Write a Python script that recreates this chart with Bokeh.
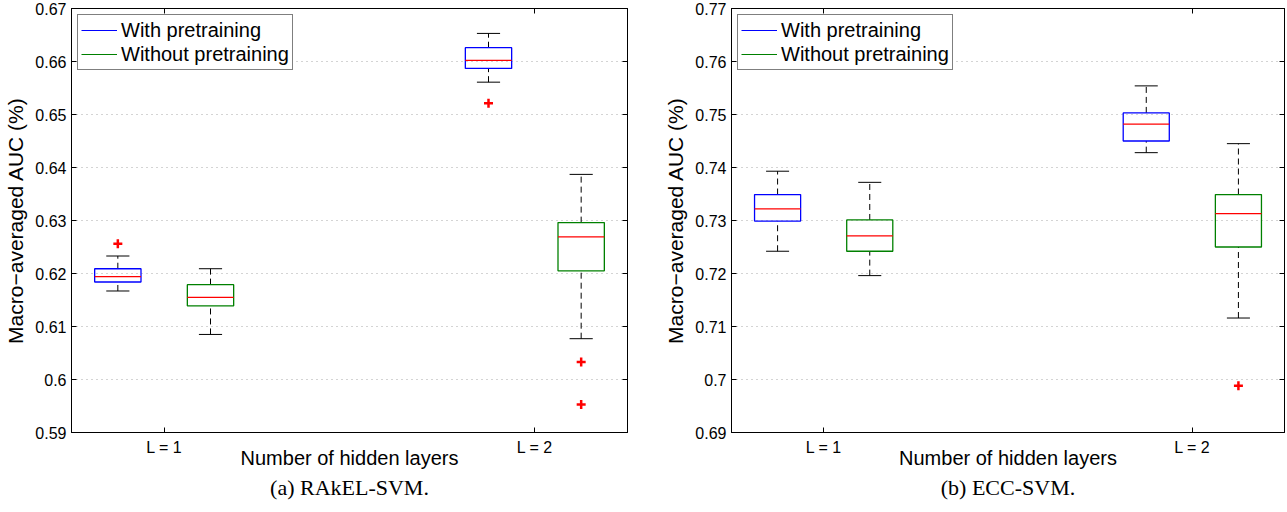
import numpy as np
from bokeh.plotting import figure
from bokeh.layouts import row
from bokeh.models import (FixedTicker, LinearAxis, Range1d, CustomJSTickFormatter,
                          Legend, LegendItem, ColumnDataSource)
from bokeh.embed import file_html
from bokeh.resources import INLINE

series = ["With pretraining", "Without pretraining"]
group_labels = ["L = 1", "L = 2"]
positions = [1, 2, 5, 6]          # box positions: with/without for L=1, with/without for L=2
box_series = [0, 1, 0, 1]
box_group = [0, 0, 1, 1]

# (a) RAkEL-SVM
a_lower = [0.6167, 0.6085, 0.6561, 0.6077]
a_q1 = [0.6184, 0.6139, 0.6587, 0.6205]
a_med = [0.6194, 0.6155, 0.6602, 0.6269]
a_q3 = [0.6209, 0.6179, 0.6626, 0.6296]
a_upper = [0.6233, 0.6209, 0.6653, 0.6387]
a_out_box = [0, 2, 3, 3]
a_out_val = [0.6256, 0.6521, 0.6033, 0.5953]
a_yticks = [0.59, 0.60, 0.61, 0.62, 0.63, 0.64, 0.65, 0.66, 0.67]

# (b) ECC-SVM
b_lower = [0.7242, 0.7196, 0.7428, 0.7116]
b_q1 = [0.7299, 0.7242, 0.7450, 0.7250]
b_med = [0.7322, 0.7271, 0.7482, 0.7313]
b_q3 = [0.7349, 0.7301, 0.7503, 0.7349]
b_upper = [0.7393, 0.7372, 0.7554, 0.7445]
b_out_box = [3]
b_out_val = [0.6988]
b_yticks = [0.69, 0.70, 0.71, 0.72, 0.73, 0.74, 0.75, 0.76, 0.77]

colors = ["#0000ff", "#008000"]
SANS = "Liberation Sans"


def panel(lower, q1, med, q3, upper, out_box, out_val, yticks, caption,
          border_left, border_right, frame_w):
    pos = np.array(positions, dtype=float)
    bw = 0.5
    cw = 0.25
    p = figure(frame_width=frame_w, frame_height=424,
               x_range=Range1d(0.5, 6.5), y_range=Range1d(yticks[0], yticks[-1]),
               output_backend="svg", toolbar_location=None,
               min_border_left=border_left, min_border_right=border_right,
               min_border_top=8, min_border_bottom=0,
               title_location="below")
    p.outline_line_color = "black"
    p.outline_line_width = 1
    p.background_fill_color = "white"
    p.border_fill_color = "white"

    group_ticks = [float(np.mean([pos[i] for i in range(4) if box_group[i] == g])) for g in range(2)]

    # axes
    xa = p.xaxis[0]
    xa.ticker = FixedTicker(ticks=group_ticks)
    xa.major_label_overrides = {group_ticks[i]: group_labels[i] for i in range(2)}
    xa.axis_label = "Number of hidden layers"
    ya = p.yaxis[0]
    ya.ticker = FixedTicker(ticks=yticks)
    ya.formatter = CustomJSTickFormatter(code="return (+tick.toFixed(2)).toString();")
    ya.axis_label = "Macro\u2212averaged AUC (%)"
    for ax in (xa, ya):
        ax.major_tick_in = 5
        ax.major_tick_out = 0
        ax.minor_tick_line_color = None
        ax.axis_line_color = "black"
        ax.major_tick_line_color = "black"
        ax.major_label_text_font = SANS
        ax.major_label_text_font_size = "16px"
        ax.major_label_text_color = "black"
        ax.axis_label_text_font = SANS
        ax.axis_label_text_font_size = "20px"
        ax.axis_label_text_font_style = "normal"
        ax.axis_label_text_color = "black"
    ya.axis_label_text_font_size = "21px"
    xa.major_label_standoff = 6
    xa.axis_label_standoff = -12
    ya.major_label_standoff = 5
    ya.axis_label_standoff = 5

    top = LinearAxis(ticker=FixedTicker(ticks=group_ticks), major_label_text_font_size="0px",
                     major_label_standoff=0, major_tick_in=5, major_tick_out=0,
                     minor_tick_line_color=None, axis_line_color="black")
    top.major_label_overrides = {t: "" for t in group_ticks}
    p.add_layout(top, "above")
    right = LinearAxis(ticker=FixedTicker(ticks=yticks), major_label_text_font_size="0px",
                       major_label_standoff=0, major_tick_in=5, major_tick_out=0,
                       minor_tick_line_color=None, axis_line_color="black")
    right.major_label_overrides = {t: "" for t in yticks}
    p.add_layout(right, "right")

    p.xgrid.visible = False
    p.ygrid.ticker = FixedTicker(ticks=yticks)
    p.ygrid.grid_line_color = "#a8a8a8"
    p.ygrid.grid_line_dash = "1 4"
    p.ygrid.grid_line_width = 1

    src = ColumnDataSource(dict(
        x=pos, lower=lower, q1=q1, med=med, q3=q3, upper=upper,
        color=[colors[s] for s in box_series],
        xl=pos - bw / 2, xr=pos + bw / 2, cl=pos - cw / 2, cr=pos + cw / 2))

    # whiskers (dashed)
    p.segment(x0="x", y0="q3", x1="x", y1="upper", source=src, line_color="black",
              line_dash="6 4", line_width=1)
    p.segment(x0="x", y0="lower", x1="x", y1="q1", source=src, line_color="black",
              line_dash="6 4", line_width=1)
    # caps
    p.segment(x0="cl", y0="upper", x1="cr", y1="upper", source=src, line_color="black", line_width=1)
    p.segment(x0="cl", y0="lower", x1="cr", y1="lower", source=src, line_color="black", line_width=1)
    # boxes
    p.quad(left="xl", right="xr", bottom="q1", top="q3", source=src, fill_color=None,
           line_color="color", line_width=1.3)
    # medians
    p.segment(x0="xl", y0="med", x1="xr", y1="med", source=src, line_color="#ff0000", line_width=1.3)
    # outliers
    p.scatter(x=[pos[i] for i in out_box], y=out_val, marker="cross", size=9,
              line_color="#ff0000", line_width=2.5)

    # legend (line swatches; renderers hold no visible data)
    items = []
    for k, name in enumerate(series):
        r = p.line(x=[np.nan, np.nan], y=[np.nan, np.nan], line_color=colors[k], line_width=1.2)
        items.append(LegendItem(label=name, renderers=[r], index=0))
    leg = Legend(items=items, location="top_left", margin=6, padding=3, spacing=0,
                 label_standoff=4, glyph_width=36, glyph_height=24, label_height=24,
                 label_text_font=SANS, label_text_font_size="20px", label_text_color="black",
                 border_line_color="black", border_line_width=1, background_fill_alpha=1.0)
    p.add_layout(leg)

    p.title.text = caption
    p.title.align = "center"
    p.title.text_font = "Liberation Serif"
    p.title.text_font_size = "22px"
    p.title.text_font_style = "normal"
    p.title.text_color = "black"
    p.title.standoff = 2
    return p


pa = panel(a_lower, a_q1, a_med, a_q3, a_upper, a_out_box, a_out_val, a_yticks,
           "(a) RAkEL-SVM.", 71, 33, 556)
pb = panel(b_lower, b_q1, b_med, b_q3, b_upper, b_out_box, b_out_val, b_yticks,
           "(b) ECC-SVM.", 71, 2, 553)

layout = row(pa, pb)
open("out.html", "w").write(file_html(layout, INLINE))
